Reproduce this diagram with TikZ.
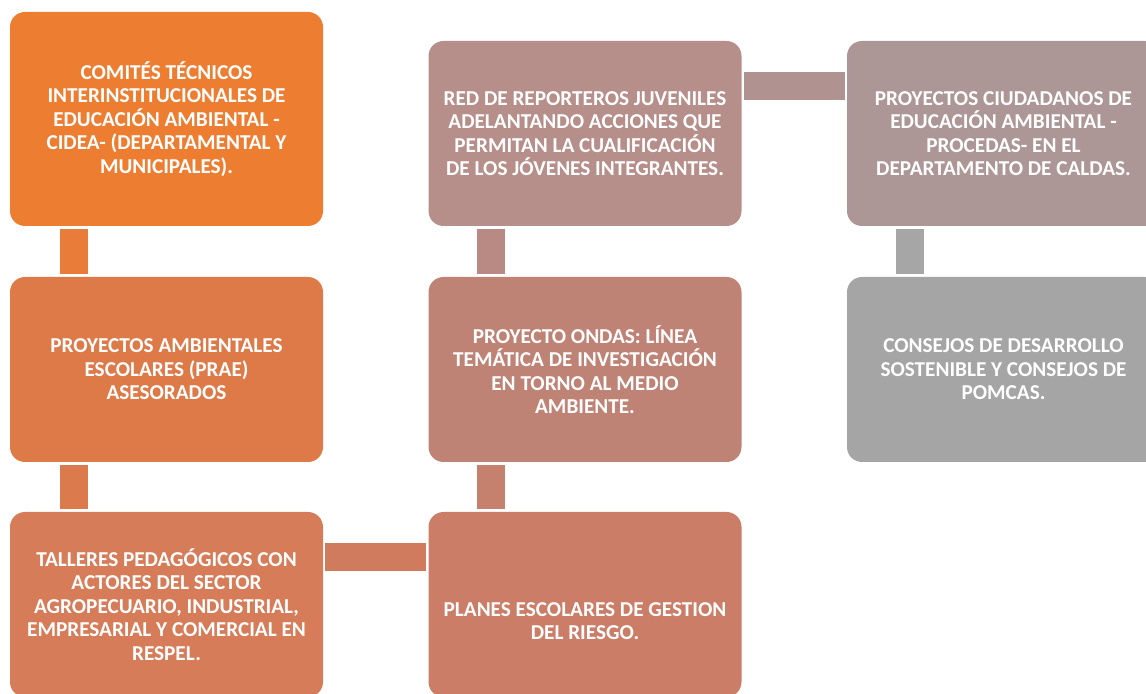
\documentclass[tikz,border=0pt]{standalone}
\usepackage{fontspec}
\setmainfont{Carlito}
\usepackage{xcolor}

\definecolor{boxA}{RGB}{237,125,49}
\definecolor{boxB}{RGB}{222,122,72}
\definecolor{boxC}{RGB}{214,124,88}
\definecolor{boxD}{RGB}{203,125,103}
\definecolor{boxE}{RGB}{191,131,118}
\definecolor{boxF}{RGB}{182,142,138}
\definecolor{boxG}{RGB}{173,150,150}
\definecolor{boxH}{RGB}{165,165,165}

\definecolor{barA}{RGB}{233,124,56}
\definecolor{barB}{RGB}{219,122,76}
\definecolor{barC}{RGB}{209,123,94}
\definecolor{barD}{RGB}{197,128,110}
\definecolor{barE}{RGB}{185,137,131}
\definecolor{barF}{RGB}{176,146,145}
\definecolor{barG}{RGB}{166,166,166}

\tikzset{
  stagebox/.style={rounded corners=7.5pt, minimum width=156.5pt, minimum height=92.5pt,
    inner sep=0pt, text=white, align=center, font=\bfseries\fontsize{10.6pt}{11.75pt}\selectfont},
  stagetext/.style={inner sep=0pt, text=white, align=center, font=\bfseries\fontsize{10.6pt}{11.75pt}\selectfont}
}

\begin{document}
\begin{tikzpicture}[x=0.5pt, y=-0.5pt]
  % page size of the reference
  \useasboundingbox (0,0) rectangle (1146,694);

  % first column
  \node[stagebox, fill=boxA, minimum height=107pt] (b1) at (166.5,119)
    {COMITÉS TÉCNICOS\\INTERINSTITUCIONALES DE\\EDUCACIÓN AMBIENTAL -\\CIDEA- (DEPARTAMENTAL Y\\MUNICIPALES).};
  \node[stagebox, fill=boxB] (b2) at (166.5,369.5)
    {PROYECTOS AMBIENTALES\\ESCOLARES (PRAE)\\ASESORADOS};
  \node[stagebox, fill=boxC] (b3) at (166.5,604.5)
    {TALLERES PEDAGÓGICOS CON\\ACTORES DEL SECTOR\\AGROPECUARIO, INDUSTRIAL,\\EMPRESARIAL Y COMERCIAL EN\\RESPEL.};

  % second column
  \node[stagebox, fill=boxD] (b6) at (585,604.5) {};
  \node[stagetext] (b6text) at (585,621) {PLANES ESCOLARES DE GESTION\\DEL RIESGO.};
  \node[stagebox, fill=boxE] (b5) at (585,369.5)
    {PROYECTO ONDAS: LÍNEA\\TEMÁTICA DE INVESTIGACIÓN\\EN TORNO AL MEDIO\\AMBIENTE.};
  \node[stagebox, fill=boxF] (b4) at (585,133.5)
    {RED DE REPORTEROS JUVENILES\\ADELANTANDO ACCIONES QUE\\PERMITAN LA CUALIFICACIÓN\\DE LOS JÓVENES INTEGRANTES.};

  % third column
  \node[stagebox, fill=boxG] (b7) at (1003.5,133.5)
    {PROYECTOS CIUDADANOS DE\\EDUCACIÓN AMBIENTAL -\\PROCEDAS- EN EL\\DEPARTAMENTO DE CALDAS.};
  \node[stagebox, fill=boxH] (b8) at (1003.5,369.5)
    {CONSEJOS DE DESARROLLO\\SOSTENIBLE Y CONSEJOS DE\\POMCAS.};

  % connecting bars
  \fill[barA] ([xshift=25pt,yshift=-1.5pt]b1.south west) rectangle ([xshift=39pt,yshift=1.5pt]b2.north west);
  \fill[barB] ([xshift=25pt,yshift=-1.5pt]b2.south west) rectangle ([xshift=39pt,yshift=1.5pt]b3.north west);
  \fill[barC] ([xshift=1pt,yshift=-15.5pt]b3.north east) rectangle ([xshift=-1pt,yshift=-29.5pt]b6.north west);
  \fill[barD] ([xshift=24.5pt,yshift=-1.5pt]b5.south west) rectangle ([xshift=38.5pt,yshift=1.5pt]b6.north west);
  \fill[barE] ([xshift=24.5pt,yshift=-1.5pt]b4.south west) rectangle ([xshift=38.5pt,yshift=1.5pt]b5.north west);
  \fill[barF] ([xshift=1pt,yshift=-15.5pt]b4.north east) rectangle ([xshift=-1pt,yshift=-29.5pt]b7.north west);
  \fill[barG] ([xshift=24.5pt,yshift=-1.5pt]b7.south west) rectangle ([xshift=38.5pt,yshift=1.5pt]b8.north west);
\end{tikzpicture}
\end{document}
